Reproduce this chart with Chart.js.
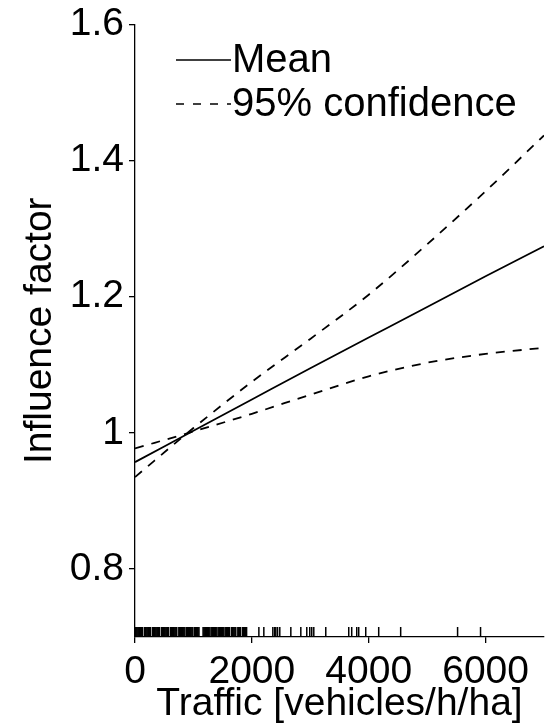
<!DOCTYPE html>
<html>
<head>
<meta charset="utf-8">
<script src="https://cdn.jsdelivr.net/npm/chart.js@4.4.1/dist/chart.umd.min.js"></script>
<style>
  html, body { margin: 0; padding: 0; background: #fff; }
  #wrap { width: 552px; height: 728px; }
</style>
</head>
<body>
<div id="wrap"><canvas id="myChart" width="552" height="728"></canvas></div>
<script>
// traffic values (vehicles/h/ha) where the curves were read
const traffic = [0, 1000, 2000, 3000, 4000, 5000, 6000, 7000];
const meanFactor = [0.957, 1.003, 1.049, 1.095, 1.140, 1.185, 1.230, 1.274];
const upperFactor = [0.935, 1.007, 1.075, 1.138, 1.203, 1.277, 1.355, 1.437];
const lowerFactor = [0.977, 1.002, 1.028, 1.056, 1.083, 1.103, 1.116, 1.125];

// observed traffic values shown as a rug along the x axis
const rugTraffic = [
    5, 20, 35, 50, 65, 80, 95, 110, 125, 160, 175, 190, 205, 220, 235, 250,
    265, 300, 315, 330, 345, 360, 375, 390, 405, 420, 455, 470, 485, 500, 515,
    530, 545, 560, 575, 610, 625, 640, 655, 670, 685, 700, 715, 750, 765, 780,
    795, 810, 825, 840, 855, 885, 900, 915, 930, 945, 960, 975, 990, 1020, 1035,
    1050, 1065, 1080, 1095,
    1165, 1180, 1195, 1210, 1225, 1240, 1255, 1270, 1300, 1315, 1330, 1345,
    1360, 1375, 1390, 1420, 1435, 1450, 1465, 1480, 1495, 1510, 1540, 1555,
    1570, 1585, 1600, 1615, 1650, 1665, 1680, 1695, 1710, 1725, 1760, 1775,
    1790, 1805, 1840, 1855, 1870, 1890, 1910,
    2120, 2205, 2359, 2390, 2410, 2440, 2478, 2667, 2838, 2940, 2991, 3025,
    3060, 3265, 3658, 3709, 3795, 3829, 3949, 4171, 4547, 5521, 5914
];

const yTicks = [0.8, 1, 1.2, 1.4, 1.6];
const xTicks = [0, 2000, 4000, 6000];

const FONT = '"Liberation Sans", Arial, Helvetica, sans-serif';
const DASH = [9, 8];

function toPoints(ys) {
    return traffic.map((x, i) => ({ x: x, y: ys[i] }));
}

const rugPlugin = {
    id: 'rug',
    afterDatasetsDraw(chart) {
        const ctx = chart.ctx;
        const xs = chart.scales.x;
        const bottom = chart.chartArea.bottom;
        ctx.save();
        ctx.strokeStyle = '#000';
        ctx.lineWidth = 1.5;
        rugTraffic.forEach(v => {
            const px = xs.getPixelForValue(v);
            ctx.beginPath();
            ctx.moveTo(px, bottom);
            ctx.lineTo(px, bottom - 10);
            ctx.stroke();
        });
        ctx.restore();
    }
};

const legendPlugin = {
    id: 'insideLegend',
    afterDraw(chart) {
        const ctx = chart.ctx;
        const items = [
            { text: chart.data.datasets[0].label, dash: [] },
            { text: chart.data.datasets[1].label, dash: [8, 9] }
        ];
        ctx.save();
        ctx.font = '40px ' + FONT;
        ctx.fillStyle = '#000';
        ctx.strokeStyle = '#000';
        ctx.lineWidth = 1.5;
        ctx.textBaseline = 'middle';
        items.forEach((it, i) => {
            const y = 60 + i * 44;
            ctx.setLineDash(it.dash);
            ctx.beginPath();
            ctx.moveTo(176, y);
            ctx.lineTo(231, y);
            ctx.stroke();
            ctx.setLineDash([]);
            ctx.fillText(it.text, 232, y + 1);
        });
        ctx.restore();
    }
};

const data = {
    datasets: [
        {
            label: 'Mean',
            data: toPoints(meanFactor),
            borderColor: '#000',
            borderWidth: 1.8,
            pointRadius: 0,
            cubicInterpolationMode: 'monotone'
        },
        {
            label: '95% confidence',
            data: toPoints(upperFactor),
            borderColor: '#000',
            borderWidth: 1.8,
            borderDash: DASH,
            pointRadius: 0,
            cubicInterpolationMode: 'monotone'
        },
        {
            label: '95% confidence',
            data: toPoints(lowerFactor),
            borderColor: '#000',
            borderWidth: 1.8,
            borderDash: DASH,
            pointRadius: 0,
            cubicInterpolationMode: 'monotone'
        }
    ]
};

const config = {
    type: 'line',
    data: data,
    plugins: [rugPlugin, legendPlugin],
    options: {
        responsive: false,
        animation: false,
        layout: { padding: { top: 24, right: 8, left: 0, bottom: 0 } },
        plugins: { legend: { display: false }, tooltip: { enabled: false } },
        scales: {
            x: {
                type: 'linear',
                min: 0,
                max: 7000,
                afterBuildTicks: s => { s.ticks = xTicks.map(v => ({ value: v })); },
                afterFit: s => { s.height = 91; },
                border: { display: true, color: '#000', width: 1.3 },
                grid: { display: true, drawOnChartArea: false, drawTicks: true, tickLength: 6, color: '#000', lineWidth: 1.3 },
                ticks: { color: '#000', font: { family: FONT, size: 39 }, padding: 6, maxRotation: 0, callback: v => String(v) },
                title: { display: true, text: 'Traffic [vehicles/h/ha]', color: '#000', font: { family: FONT, size: 39 }, padding: { top: -10, bottom: 0 } }
            },
            y: {
                type: 'linear',
                min: 0.7,
                max: 1.6,
                afterBuildTicks: s => { s.ticks = yTicks.map(v => ({ value: v })); },
                afterFit: s => { s.width = 135; },
                border: { display: true, color: '#000', width: 1.3 },
                grid: { display: true, drawOnChartArea: false, drawTicks: true, tickLength: 6, color: '#000', lineWidth: 1.3 },
                ticks: { color: '#000', font: { family: FONT, size: 39, lineHeight: 1 }, padding: 5, callback: v => String(v) },
                title: { display: true, text: 'Influence factor', color: '#000', font: { family: FONT, size: 39 }, padding: { top: 17, bottom: 0 } }
            }
        }
    }
};

const myChart = new Chart(document.getElementById('myChart'), config);
</script>
</body>
</html>
